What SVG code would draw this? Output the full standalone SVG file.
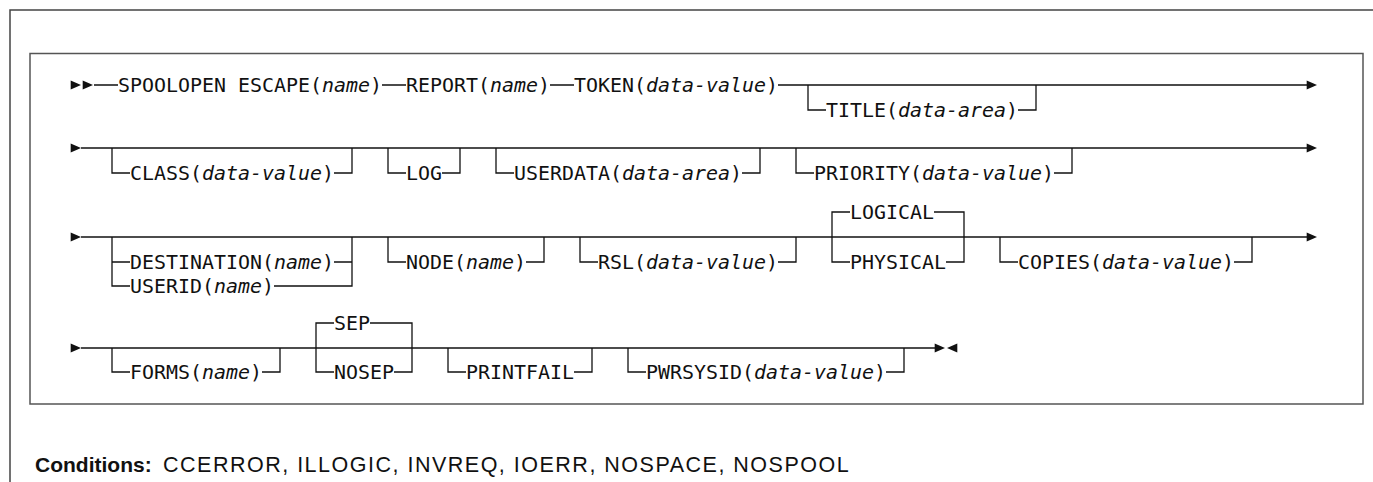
<svg xmlns="http://www.w3.org/2000/svg" width="1373" height="482" viewBox="0 0 1373 482">
<style>
.t{font-family:"DejaVu Sans Mono","Liberation Mono",monospace;font-size:19.93px;fill:#111}
.i{font-style:italic}
.ln{fill:none;stroke:#111;stroke-width:1.3}
.ar{fill:#111}
.frame{fill:none;stroke:#444;stroke-width:1.5}
.box{fill:none;stroke:#555;stroke-width:1.5}
.cond{font-family:"Liberation Sans",Arial,sans-serif;font-size:21px;fill:#111}
.reg{font-size:21.5px;letter-spacing:1.5px}
</style>
<defs>
<path id="tri" d="M0.7,-4.5 L11,0 L0.7,4.5 Z"/>
<path id="triL" d="M11.3,-4.5 L1,0 L11.3,4.5 Z"/>
</defs>
<path class="frame" d="M10,482 V10 H1373"/>
<rect class="box" x="30" y="53.5" width="1333" height="350.5"/>

<g id="connectors">
<!-- row 1 -->
<use href="#tri" class="ar" x="70" y="85"/>
<use href="#tri" class="ar" x="82" y="85"/>
<path class="ln" d="M94,85 H118 M382,85 H406 M550,85 H574 M778,85 H1307"/>
<use href="#tri" class="ar" x="1306" y="85"/>
<path class="ln" d="M808,85 V110 H826 M1018,110 H1036 V85"/>
<!-- row 2 -->
<use href="#tri" class="ar" x="70" y="148"/>
<path class="ln" d="M81,148 H1307"/>
<use href="#tri" class="ar" x="1306" y="148"/>
<path class="ln" d="M112,148 V173 H130 M334,173 H352 V148"/>
<path class="ln" d="M388,148 V173 H406 M442,173 H460 V148"/>
<path class="ln" d="M496,148 V173 H514 M742,173 H760 V148"/>
<path class="ln" d="M796,148 V173 H814 M1054,173 H1072 V148"/>
<!-- row 3 -->
<use href="#tri" class="ar" x="70" y="237"/>
<path class="ln" d="M81,237 H1307"/>
<use href="#tri" class="ar" x="1306" y="237"/>
<path class="ln" d="M112,237 V286 H130 M112,262 H130 M334,262 H352 M274,286 H352 V237"/>
<path class="ln" d="M388,237 V262 H406 M526,262 H544 V237"/>
<path class="ln" d="M580,237 V262 H598 M778,262 H796 V237"/>
<path class="ln" d="M850,212 H832 V262 H850 M934,212 H964 V262 H946"/>
<path class="ln" d="M1000,237 V262 H1018 M1234,262 H1252 V237"/>
<!-- row 4 -->
<use href="#tri" class="ar" x="70" y="348"/>
<path class="ln" d="M81,348 H935"/>
<use href="#tri" class="ar" x="934" y="348"/>
<use href="#triL" class="ar" x="946" y="348"/>
<path class="ln" d="M112,348 V372 H130 M262,372 H280 V348"/>
<path class="ln" d="M334,323 H316 V372 H334 M370,323 H412 V372 H394"/>
<path class="ln" d="M448,348 V372 H466 M574,372 H592 V348"/>
<path class="ln" d="M628,348 V372 H646 M886,372 H904 V348"/>
</g>

<g id="n-spoolopen"><text class="t" x="118" y="92.3">SPOOLOPEN ESCAPE(<tspan class="i">name</tspan>)</text></g>
<g id="n-report"><text class="t" x="406" y="92.3">REPORT(<tspan class="i">name</tspan>)</text></g>
<g id="n-token"><text class="t" x="574" y="92.3">TOKEN(<tspan class="i">data-value</tspan>)</text></g>
<g id="n-title"><text class="t" x="826" y="117.3">TITLE(<tspan class="i">data-area</tspan>)</text></g>

<g id="n-class"><text class="t" x="130" y="180.3">CLASS(<tspan class="i">data-value</tspan>)</text></g>
<g id="n-log"><text class="t" x="406" y="180.3">LOG</text></g>
<g id="n-userdata"><text class="t" x="514" y="180.3">USERDATA(<tspan class="i">data-area</tspan>)</text></g>
<g id="n-priority"><text class="t" x="814" y="180.3">PRIORITY(<tspan class="i">data-value</tspan>)</text></g>

<g id="n-destination"><text class="t" x="130" y="269.3">DESTINATION(<tspan class="i">name</tspan>)</text></g>
<g id="n-userid"><text class="t" x="130" y="293.3">USERID(<tspan class="i">name</tspan>)</text></g>
<g id="n-node"><text class="t" x="406" y="269.3">NODE(<tspan class="i">name</tspan>)</text></g>
<g id="n-rsl"><text class="t" x="598" y="269.3">RSL(<tspan class="i">data-value</tspan>)</text></g>
<g id="n-logical"><text class="t" x="850" y="219.3">LOGICAL</text></g>
<g id="n-physical"><text class="t" x="850" y="269.3">PHYSICAL</text></g>
<g id="n-copies"><text class="t" x="1018" y="269.3">COPIES(<tspan class="i">data-value</tspan>)</text></g>

<g id="n-forms"><text class="t" x="130" y="379.3">FORMS(<tspan class="i">name</tspan>)</text></g>
<g id="n-sep"><text class="t" x="334" y="330.3">SEP</text></g>
<g id="n-nosep"><text class="t" x="334" y="379.3">NOSEP</text></g>
<g id="n-printfail"><text class="t" x="466" y="379.3">PRINTFAIL</text></g>
<g id="n-pwrsysid"><text class="t" x="646" y="379.3">PWRSYSID(<tspan class="i">data-value</tspan>)</text></g>

<g id="conditions"><text class="cond" x="35" y="472"><tspan font-weight="bold">Conditions:</tspan><tspan class="reg" x="163">CCERROR, ILLOGIC, INVREQ, IOERR, NOSPACE, NOSPOOL</tspan></text></g>
</svg>
